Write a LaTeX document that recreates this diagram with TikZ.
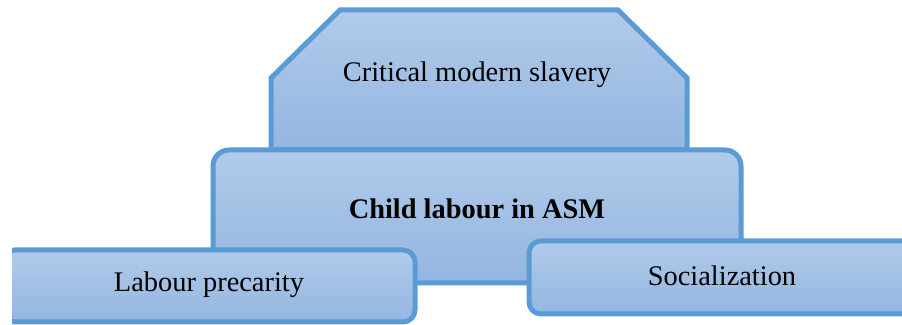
\documentclass[tikz,border=0pt]{standalone}
\usepackage{fontspec}
\setmainfont{Liberation Serif}
\definecolor{edgeblue}{HTML}{5B9BD5}
\definecolor{filltop}{HTML}{B1CAE9}
\definecolor{fillbot}{HTML}{93B6E1}
\tikzset{
  panel/.style={draw=edgeblue, line width=2.5pt, top color=filltop, bottom color=fillbot, line join=miter},
  lbl/.style={font=\fontsize{14.2}{16}\selectfont, text=black, inner sep=0pt}
}
\begin{document}
\begin{tikzpicture}[x=0.5pt,y=-0.5pt]
\useasboundingbox (0,0) rectangle (902,325);
\begin{scope}
\clip (12,-10) rectangle (920,340);
% top chamfered shape
\path[panel] (271,150) -- (271,78) -- (340,10) -- (618,10) -- (687,78) -- (687,150) -- cycle;
\node[lbl] (top) at (477,75) {Critical modern slavery};
% middle box
\path[panel, rounded corners=8pt] (213,150) rectangle (741,283);
\node[lbl] (mid) at (477,209) {\bfseries Child labour in ASM};
% labour precarity
\path[panel, rounded corners=6pt] (3,250) rectangle (415,322);
\node[lbl] (lab) at (209,285) {Labour precarity};
% socialization
\path[panel, rounded corners=6pt] (529,241) rectangle (915,314);
\node[lbl] (soc) at (722,276) {Socialization};
\end{scope}
\end{tikzpicture}
\end{document}
